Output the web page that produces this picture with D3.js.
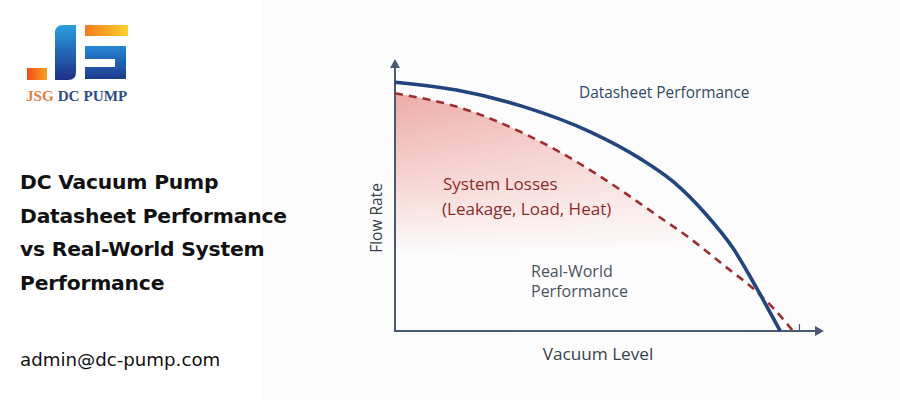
<!DOCTYPE html>
<html>
<head>
<meta charset="utf-8">
<script src="https://cdn.jsdelivr.net/npm/d3@7"></script>
<style>
  html, body { margin: 0; padding: 0; background: #fff; }
  svg { display: block; }
</style>
</head>
<body>
<div id="chart"></div>
<script>
// curve points, x = vacuum level (0-100), y = flow rate (0-100)
var vacuumDatasheet = [0, 14.4, 30.0, 45.6, 57.2, 65.0, 72.8, 79.0, 84.5, 90.0];
var flowDatasheet   = [91.8, 88.9, 82.8, 73.5, 63.7, 55.1, 42.8, 30.5, 15.8, 0];
var vacuumReal = [0, 14.4, 30.0, 45.6, 53.3, 61.1, 68.9, 76.7, 84.5, 88.4, 93.0];
var flowReal   = [87.7, 82.8, 73.0, 59.4, 51.4, 42.8, 34.2, 24.4, 14.5, 8.4, 0];

var titleLines = ["DC Vacuum Pump", "Datasheet Performance", "vs Real-World System", "Performance"];
var email = "admin@dc-pump.com";
var xLabel = "Vacuum Level", yLabel = "Flow Rate";

var W = 900, H = 400;
var svg = d3.select("#chart").append("svg")
  .attr("width", W).attr("height", H);

var defs = svg.append("defs");

// background of the chart side
svg.append("rect").attr("x", 262).attr("y", 0).attr("width", W - 262).attr("height", H)
  .attr("fill", "#fcfcfd");

// ---- logo ----
function grad(id, x1, y1, x2, y2, stops) {
  var g = defs.append("linearGradient").attr("id", id)
    .attr("x1", x1).attr("y1", y1).attr("x2", x2).attr("y2", y2);
  stops.forEach(function(s) { g.append("stop").attr("offset", s[0]).attr("stop-color", s[1]); });
}
grad("gOrange", "0", "0", "1", "0", [[0, "#f24a1d"], [1, "#f7a21c"]]);
grad("gTop", "0", "0", "1", "0", [[0, "#f47a1f"], [1, "#f9d22a"]]);
grad("gBlue", "0", "0", "0", "1", [[0, "#2a9ee0"], [1, "#1e2f86"]]);
grad("gBlue2", "0", "0", "0", "1", [[0, "#2587d4"], [1, "#1e3a8e"]]);

var logo = svg.append("g");
logo.append("rect").attr("x", 27).attr("y", 68).attr("width", 20).attr("height", 12).attr("fill", "url(#gOrange)");
logo.append("path")
  .attr("d", "M63,25 L76,25 L76,72 Q76,80 68,80 L55,80 L55,33 Q55,25 63,25 Z")
  .attr("fill", "url(#gBlue)");
logo.append("rect").attr("x", 85).attr("y", 25).attr("width", 43).attr("height", 11).attr("fill", "url(#gTop)");
logo.append("path")
  .attr("d", "M85,46 L126,46 L126,79 L85,79 L85,67 L115,67 L115,59 L85,59 Z")
  .attr("fill", "url(#gBlue2)");
var logoText = logo.append("text").attr("x", 26).attr("y", 101)
  .attr("font-family", "Liberation Serif, serif").attr("font-weight", "bold").attr("font-size", 15.2);
logoText.append("tspan").attr("fill", "#e07e48").text("JSG ");
logoText.append("tspan").attr("fill", "#2f4c86").text("DC PUMP");

// ---- title ----
svg.append("g").selectAll("text").data(titleLines).enter().append("text")
  .attr("x", 20).attr("y", function(d, i) { return 189 + i * 33.7; })
  .attr("font-family", "'DejaVu Sans', sans-serif").attr("font-weight", 700)
  .attr("font-size", 20.3).attr("letter-spacing", -0.2).attr("fill", "#111")
  .text(function(d) { return d; });

svg.append("text").attr("x", 20).attr("y", 366)
  .attr("font-family", "'DejaVu Sans', sans-serif").attr("font-size", 18.2)
  .attr("fill", "#111").text(email);

// ---- chart ----
var x = d3.scaleLinear().domain([0, 100]).range([395, 823]);
var y = d3.scaleLinear().domain([0, 100]).range([331, 60]);

var datasheet = vacuumDatasheet.map(function(v, i) { return [v, flowDatasheet[i]]; });
var real = vacuumReal.map(function(v, i) { return [v, flowReal[i]]; });

var fillGrad = defs.append("linearGradient").attr("id", "gLoss")
  .attr("gradientUnits", "userSpaceOnUse")
  .attr("x1", 0).attr("y1", y(90)).attr("x2", 0).attr("y2", y(28));
fillGrad.append("stop").attr("offset", 0).attr("stop-color", "#eca9a5");
fillGrad.append("stop").attr("offset", 0.55).attr("stop-color", "#f6d4d1");
fillGrad.append("stop").attr("offset", 1).attr("stop-color", "#fcfcfd");

var fadeGrad = defs.append("linearGradient").attr("id", "gFade")
  .attr("gradientUnits", "userSpaceOnUse")
  .attr("x1", x(0)).attr("y1", 0).attr("x2", x(85)).attr("y2", 0);
fadeGrad.append("stop").attr("offset", 0).attr("stop-color", "#fff").attr("stop-opacity", 0);
fadeGrad.append("stop").attr("offset", 1).attr("stop-color", "#fcfcfd").attr("stop-opacity", 0.5);

var area = d3.area().curve(d3.curveMonotoneX)
  .x(function(d) { return x(d[0]); }).y0(y(0)).y1(function(d) { return y(d[1]); });
var line = d3.line().curve(d3.curveMonotoneX)
  .x(function(d) { return x(d[0]); }).y(function(d) { return y(d[1]); });

svg.append("path").datum(real).attr("d", area).attr("fill", "url(#gLoss)");
svg.append("path").datum(real).attr("d", area).attr("fill", "url(#gFade)");

// axes
var axisColor = "#4a5a70";
svg.append("line").attr("x1", x(0)).attr("y1", y(0)).attr("x2", x(0)).attr("y2", y(100) + 6)
  .attr("stroke", axisColor).attr("stroke-width", 2);
svg.append("line").attr("x1", x(0) - 1).attr("y1", y(0)).attr("x2", x(100) - 6).attr("y2", y(0))
  .attr("stroke", axisColor).attr("stroke-width", 2);
svg.append("path")
  .attr("d", "M" + x(0) + "," + (y(100) - 1) + " l-5,9 l10,0 z").attr("fill", axisColor);
svg.append("path")
  .attr("d", "M" + (x(100) + 1) + "," + y(0) + " l-9,-5 l0,10 z").attr("fill", axisColor);
svg.append("line").attr("x1", x(94.5)).attr("x2", x(94.5)).attr("y1", y(0)).attr("y2", y(0) - 7)
  .attr("stroke", axisColor).attr("stroke-width", 1.2);

svg.append("path").datum(real).attr("d", line).attr("fill", "none")
  .attr("stroke", "#9b2f2f").attr("stroke-width", 2.6).attr("stroke-dasharray", "8,6");
svg.append("path").datum(datasheet).attr("d", line).attr("fill", "none")
  .attr("stroke", "#22457e").attr("stroke-width", 3.6);

// labels
var font = "'Open Sans', 'Noto Sans', sans-serif";
svg.append("text").attr("x", 579).attr("y", 97.5).attr("font-family", font).attr("font-size", 15.4)
  .attr("fill", "#2f4866").text("Datasheet Performance");
svg.append("text").attr("x", 443).attr("y", 190).attr("font-family", font).attr("font-size", 17)
  .attr("fill", "#8e2b2b").text("System Losses");
svg.append("text").attr("x", 442).attr("y", 215).attr("font-family", font).attr("font-size", 17)
  .attr("fill", "#8e2b2b").text("(Leakage, Load, Heat)");
svg.append("text").attr("x", 531).attr("y", 276.5).attr("font-family", font).attr("font-size", 16)
  .attr("fill", "#4a5260").text("Real-World");
svg.append("text").attr("x", 531).attr("y", 297).attr("font-family", font).attr("font-size", 16)
  .attr("fill", "#4a5260").text("Performance");
svg.append("text").attr("x", 598).attr("y", 360).attr("text-anchor", "middle")
  .attr("font-family", font).attr("font-size", 17.2).attr("fill", "#38414d").text(xLabel);
svg.append("text").attr("transform", "translate(382,218) rotate(-90)").attr("text-anchor", "middle")
  .attr("font-family", font).attr("font-size", 15.5).attr("fill", "#38414d").text(yLabel);
</script>
</body>
</html>
